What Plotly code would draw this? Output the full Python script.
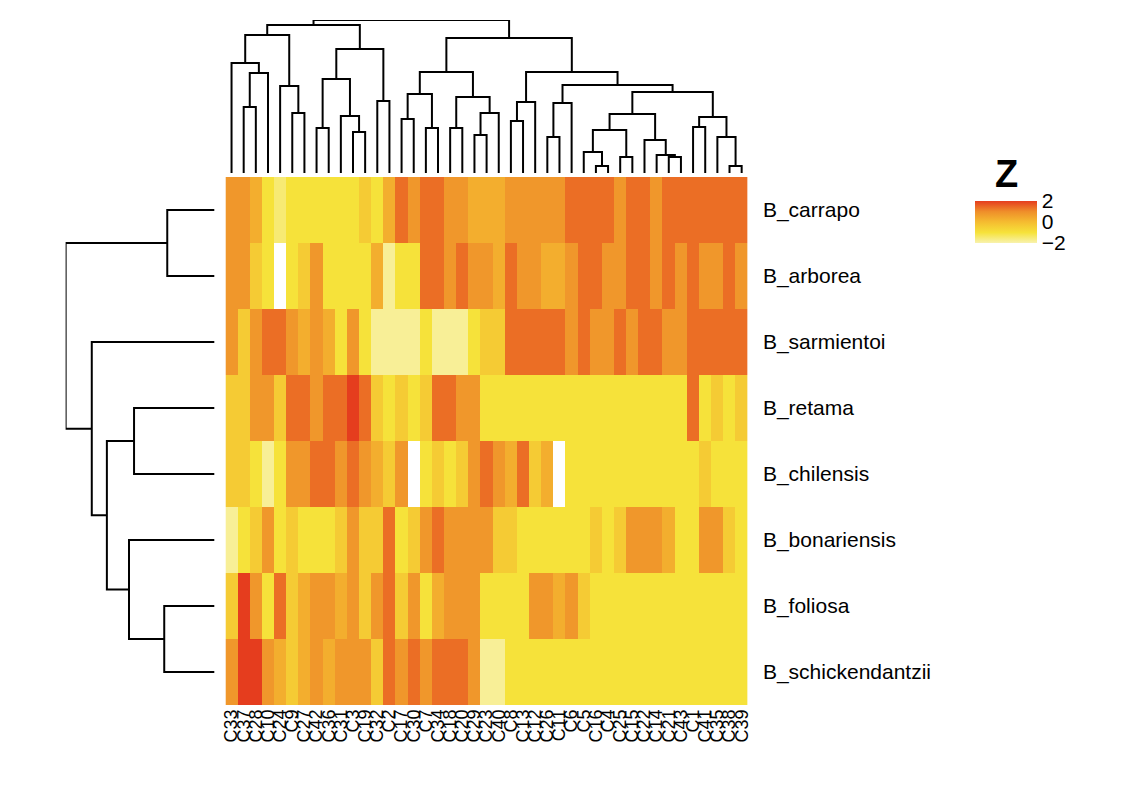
import plotly.graph_objects as go

# ---------------- data ----------------
row_labels = ["B_carrapo", "B_arborea", "B_sarmientoi", "B_retama",
              "B_chilensis", "B_bonariensis", "B_foliosa", "B_schickendantzii"]

col_labels = ["C33", "C37", "C28", "C10", "C24", "C9", "C27", "C42", "C36", "C31",
              "C3", "C19", "C32", "C2", "C17", "C30", "C7", "C34", "C18", "C20",
              "C29", "C23", "C40", "C8", "C13", "C12", "C26", "C11", "C6", "C5",
              "C16", "C4", "C25", "C15", "C22", "C14", "C21", "C43", "C1", "C41",
              "C35", "C38", "C39"]

N = None
z_carrapo = [0.8, 0.8, 0.3, -1.0, -1.5, -1.0, -1.0, -1.0, -1.0, -1.0, -1.0, -0.4, -1.0, 0.3, 1.4,
             0.8, 1.4, 1.4, 0.8, 0.8, 0.3, 0.3, 0.3, 0.8, 0.8, 0.8, 0.8, 0.8, 1.4, 1.4,
             1.4, 1.4, 0.8, 1.4, 1.4, 0.8, 1.4, 1.4, 1.4, 1.4, 1.4, 1.4, 1.4]
z_arborea = [0.8, 0.8, -0.4, -1.0, N, -1.0, -0.4, 0.8, -1.0, -1.0, -1.0, -1.0, 0.3, -1.8, -1.0,
             -1.0, 1.4, 1.4, 0.8, 1.4, 0.8, 0.8, 0.3, 1.4, 0.8, 0.8, 0.3, 0.3, 0.8, 1.4,
             1.4, 0.8, 0.8, 1.4, 1.4, 0.8, 1.4, 0.8, 1.4, 0.8, 0.8, 1.4, 0.8]
z_sarmientoi = [0.8, -0.4, 0.8, 1.4, 1.4, 0.8, 0.3, 0.8, 0.3, -1.0, 0.8, -1.0, -1.8, -1.8, -1.8,
                -1.8, -1.0, -1.8, -1.8, -1.8, -1.0, -0.4, -0.4, 1.4, 1.4, 1.4, 1.4, 1.4, 0.8, 1.4,
                0.8, 0.8, 1.4, 0.8, 1.4, 1.4, 0.8, 0.8, 1.4, 1.4, 1.4, 1.4, 1.4]
z_retama = [-0.4, -0.4, 0.8, 0.8, -0.4, 1.4, 1.4, 0.8, 1.4, 1.4, 2.0, 1.4, -0.4, -1.0, -0.4,
            -1.0, -0.4, 1.4, 1.4, 0.8, 0.8, -1.0, -1.0, -1.0, -1.0, -1.0, -1.0, -1.0, -1.0, -1.0,
            -1.0, -1.0, -1.0, -1.0, -1.0, -1.0, -1.0, -1.0, 1.4, -1.0, -0.4, -1.0, -0.4]
z_chilensis = [-0.4, -0.4, -1.0, -1.8, -1.0, 0.8, 0.8, 1.4, 1.4, 0.8, 1.4, 0.8, 0.3, -0.4, 0.8,
               N, -1.0, -0.4, -1.0, -0.4, 0.8, 1.4, 0.8, 0.3, 1.4, -0.4, 0.3, N, -1.0, -1.0,
               -1.0, -1.0, -1.0, -1.0, -1.0, -1.0, -1.0, -1.0, -1.0, -0.4, -1.0, -1.0, -1.0]
z_bonariensis = [-1.8, -1.0, -0.4, 0.8, -1.0, -0.4, -1.0, -1.0, -1.0, -0.4, 0.8, -0.4, -0.4, 1.4, -1.0,
                 -0.4, 0.8, 1.4, 0.8, 0.8, 0.8, 0.8, -0.4, -0.4, -1.0, -1.0, -1.0, -1.0, -1.0, -1.0,
                 -0.4, -1.0, -0.4, 0.8, 0.8, 0.8, 0.3, -1.0, -1.0, 0.8, 0.8, -0.4, -1.0]
z_foliosa = [-0.4, 2.0, 0.8, -1.0, 1.4, -0.4, 0.3, 0.8, 0.8, 0.3, 0.8, -0.4, 0.8, 1.4, -0.4,
             0.8, -1.0, 0.3, 0.8, 0.8, 0.8, -1.0, -1.0, -1.0, -1.0, 0.8, 0.8, 0.3, 0.8, -0.4,
             -1.0, -1.0, -1.0, -1.0, -1.0, -1.0, -1.0, -1.0, -1.0, -1.0, -1.0, -1.0, -1.0]
z_schickendantzii = [0.8, 2.0, 2.0, 0.8, 0.3, -0.4, 0.3, 0.8, 0.3, 0.8, 0.8, 0.8, -0.4, 1.4, 0.8,
                     1.4, 0.8, 1.4, 1.4, 1.4, 0.8, -1.8, -1.8, -1.0, -1.0, -1.0, -1.0, -1.0, -1.0, -1.0,
                     -1.0, -1.0, -1.0, -1.0, -1.0, -1.0, -1.0, -1.0, -1.0, -1.0, -1.0, -1.0, -1.0]

z_rows = [z_carrapo, z_arborea, z_sarmientoi, z_retama,
          z_chilensis, z_bonariensis, z_foliosa, z_schickendantzii]

# column dendrogram merges: (left, right, height); ints = leaf positions, "nK" = K-th merge
col_merges = [
    (1, 2, 66), ("n0", 3, 100), (0, "n1", 110), (5, 6, 60), (4, "n3", 87),
    ("n2", "n4", 138), (7, 8, 45), (10, 11, 41), (9, "n7", 57), ("n6", "n8", 94),
    (12, 13, 72), ("n9", "n10", 124), ("n5", "n11", 148), (14, 15, 54), (16, 17, 45),
    ("n13", "n14", 79), (18, 19, 45), (20, 21, 38), ("n17", 22, 60), ("n16", "n18", 76),
    ("n15", "n19", 101), (23, 24, 52), ("n21", 25, 71), (26, 27, 36), ("n23", 28, 70),
    (30, 31, 7), (29, "n25", 21), (32, 33, 16), ("n26", "n27", 43), (36, 37, 16),
    (35, "n29", 18), (34, "n30", 33), ("n28", "n31", 59), (38, 39, 46), (41, 42, 7),
    (40, "n34", 36), ("n33", "n35", 56), ("n32", "n36", 81), ("n24", "n37", 88),
    ("n22", "n38", 101), ("n20", "n39", 135), ("n12", "n40", 153),
]

# row dendrogram merges
row_merges = [
    (0, 1, 47), (3, 4, 80), (6, 7, 50), (5, "n2", 85),
    ("n1", "n3", 107), (2, "n4", 122), ("n0", "n5", 148),
]

legend_title = "Z"
legend_ticks = [-2, 0, 2]
legend_ticktext = ["−2", "0", "2"]

colorscale = [[0.0, "#F8F2AE"], [0.25, "#F6E23A"], [0.5, "#F5BC30"],
              [0.75, "#EF8E2A"], [1.0, "#E53D1E"]]


def dendro_segments(merges):
    pos, hgt = {}, {}
    segs = []
    for k, (a, b, h) in enumerate(merges):
        pa = pos[a] if isinstance(a, str) else a
        pb = pos[b] if isinstance(b, str) else b
        ha = hgt[a] if isinstance(a, str) else 0
        hb = hgt[b] if isinstance(b, str) else 0
        segs.append(([pa, pa, pb, pb], [ha, h, h, hb]))
        pos["n%d" % k] = (pa + pb) / 2
        hgt["n%d" % k] = h
    return segs


def flat(segs, swap=False):
    xs, ys = [], []
    for p, h in segs:
        if swap:
            xs += h + [None]
            ys += p + [None]
        else:
            xs += p + [None]
            ys += h + [None]
    return xs, ys


OFF = 8  # page body margin
W, H = 1141 - 2 * OFF, 795 - 2 * OFF


def px(x):
    return (x - OFF) / W


def py(y):
    return 1 - (y - OFF) / H


hx0, hx1 = px(223), px(749)
hy0, hy1 = py(705), py(177)
FONT = "Liberation Sans, Arial, sans-serif"

fig = go.Figure()

fig.add_trace(go.Heatmap(
    z=z_rows, x=list(range(len(col_labels))), y=list(range(len(row_labels))),
    colorscale=colorscale, zmin=-2, zmax=2, xgap=0, ygap=0,
    hoverongaps=False,
    colorbar=dict(
        x=px(978), xanchor="left",
        y=py(222), yanchor="middle",
        lenmode="pixels", len=42, thickness=62,
        outlinewidth=0, ticks="", xpad=0, ypad=0,
        tickvals=legend_ticks, ticktext=legend_ticktext,
        tickfont=dict(size=21, color="black", family=FONT),
    ),
))

cx, cy = flat(dendro_segments(col_merges))
fig.add_trace(go.Scatter(x=cx, y=cy, mode="lines", xaxis="x2", yaxis="y2",
                         line=dict(color="black", width=2), hoverinfo="skip",
                         showlegend=False))
rx, ry = flat(dendro_segments(row_merges), swap=True)
fig.add_trace(go.Scatter(x=rx, y=ry, mode="lines", xaxis="x3", yaxis="y3",
                         line=dict(color="black", width=2), hoverinfo="skip",
                         showlegend=False))

ncol, nrow = len(col_labels), len(row_labels)
fig.update_layout(
    width=W, height=H, margin=dict(l=0, r=0, t=0, b=0),
    paper_bgcolor="white", plot_bgcolor="white",
    font=dict(family=FONT, color="black"),
    xaxis=dict(domain=[hx0, hx1], range=[-0.5, ncol - 0.5], tickmode="array",
               tickvals=list(range(ncol)), ticktext=col_labels, tickangle=-90,
               tickfont=dict(size=18), ticks="", showgrid=False, zeroline=False,
               showline=False, anchor="y"),
    yaxis=dict(domain=[hy0, hy1], range=[nrow - 0.5, -0.5], tickmode="array",
               tickvals=list(range(nrow)), ticktext=row_labels, side="right",
               tickfont=dict(size=21), ticks="outside", ticklen=10, tickcolor="white",
               showgrid=False, zeroline=False, showline=False, anchor="x"),
    xaxis2=dict(domain=[hx0, hx1], range=[-0.5, ncol - 0.5], visible=False,
                anchor="y2"),
    yaxis2=dict(domain=[py(173), py(20)], range=[0, 153], visible=False,
                anchor="x2"),
    xaxis3=dict(domain=[px(62), px(212)], range=[148, 0], visible=False,
                anchor="y3"),
    yaxis3=dict(domain=[hy0, hy1], range=[nrow - 0.5, -0.5], visible=False,
                anchor="x3"),
    annotations=[dict(text="<b>%s</b>" % legend_title, x=px(996), y=py(197),
                      xref="paper", yref="paper", xanchor="left", yanchor="bottom",
                      showarrow=False, font=dict(size=38, color="black", family=FONT))],
)

fig.write_html("out.html")
